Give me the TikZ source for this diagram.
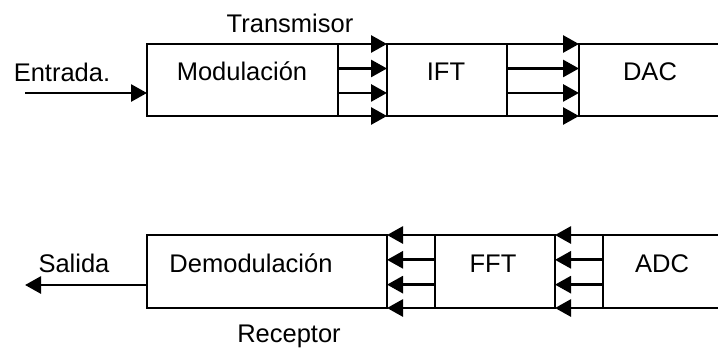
\documentclass[tikz,border=0pt]{standalone}
\usepackage{fontspec}
\setmainfont{Liberation Sans}
\usetikzlibrary{arrows.meta,calc}
\begin{document}
\begin{tikzpicture}[x=1pt,y=-1pt,
  blk/.style={draw, line width=2.8pt, rectangle, inner sep=0pt, outer sep=0pt, anchor=north west},
  lbl/.style={font=\fontsize{25.5}{30}\selectfont, inner sep=0pt, anchor=base},
  sig/.style={line width=2.8pt, -{Triangle[length=16pt,width=17pt]}},
]
\clip (0,0) rectangle (718,354);
% Transmitter
\node[blk, minimum width=191pt, minimum height=72pt] (mod) at (147,44) {};
\node[blk, minimum width=120pt, minimum height=72pt] (ift) at (387,44) {};
\node[blk, minimum width=170pt, minimum height=72pt] (dac) at (579,44) {};
\foreach \f in {0,0.34,0.68,1}{
  \draw[sig] ($(mod.north east)!\f!(mod.south east)$) -- ($(ift.north west)!\f!(ift.south west)$);
  \draw[sig] ($(ift.north east)!\f!(ift.south east)$) -- ($(dac.north west)!\f!(dac.south west)$);
}
\coordinate (in) at (25,93);
\draw[sig] (in) -- (in -| mod.west);
\node[lbl] (tmod) at (242,80) {Modulación};
\node[lbl] (tift) at (446,80) {IFT};
\node[lbl] (tdac) at (650,80) {DAC};
\node[lbl] (tent) at (62,81) {Entrada.};
\node[lbl] (ttx) at (290,32) {Transmisor};
% Receiver
\node[blk, minimum width=240pt, minimum height=73pt] (dem) at (147,235) {};
\node[blk, minimum width=120pt, minimum height=73pt] (fft) at (435,235) {};
\node[blk, minimum width=150pt, minimum height=73pt] (adc) at (603,235) {};
\foreach \f in {0,0.34,0.68,1}{
  \draw[sig] ($(fft.north west)!\f!(fft.south west)$) -- ($(dem.north east)!\f!(dem.south east)$);
  \draw[sig] ($(adc.north west)!\f!(adc.south west)$) -- ($(fft.north east)!\f!(fft.south east)$);
}
\coordinate (out) at (25,285);
\draw[sig] (dem.west |- out) -- (out);
\node[lbl] (tdem) at (251,272) {Demodulación};
\node[lbl] (tfft) at (493,272) {FFT};
\node[lbl] (tadc) at (662,272) {ADC};
\node[lbl] (tsal) at (74,272) {Salida};
\node[lbl] (trec) at (289,342) {Receptor};
\end{tikzpicture}
\end{document}
